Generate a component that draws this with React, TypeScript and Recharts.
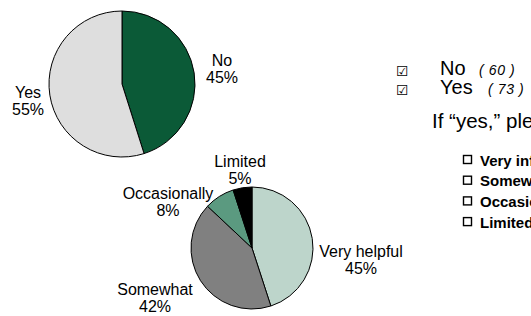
import React from "react";
import { PieChart, Pie, Cell } from "recharts";

const useCategories = ["No", "Yes"];
const useCounts = [60, 73];
const useColors = ["#0B5A37", "#DEDEDE"];

const helpCategories = ["Very helpful", "Somewhat", "Occasionally", "Limited"];
const helpPercents = [45, 42, 8, 5];
const helpColors = ["#BDD5CB", "#808080", "#5B9A80", "#000000"];

const listItems = ["Very informative", "Somewhat", "Occasionally", "Limited"];

const useData = useCategories.map((name, i) => ({ name, value: useCounts[i] }));
const helpData = helpCategories.map((name, i) => ({ name, value: helpPercents[i] }));

const FONT = "'Liberation Sans', Arial, Helvetica, sans-serif";

// label block offsets relative to pie centre (layout only)
const labelOffsets: Record<string, [number, number]> = {
  No: [100, -16],
  Yes: [-94, 16],
  "Very helpful": [109, 11],
  Somewhat: [-97, 49],
  Occasionally: [-84, -47],
  Limited: [-12, -79],
};

// x of the italic count after each answer (layout only)
const countX = [479, 488];

const renderLabel = (props: any) => {
  const { cx, cy, name, percent } = props;
  const off = labelOffsets[name] || [0, 0];
  const x = cx + off[0];
  const y = cy + off[1];
  return (
    <text
      x={x}
      y={y}
      textAnchor="middle"
      fontFamily={FONT}
      fontSize={16}
      fill="#000"
    >
      <tspan x={x} y={y - 2}>{name}</tspan>
      <tspan x={x} y={y + 15}>{Math.round(percent * 100)}%</tspan>
    </text>
  );
};

export default function App() {
  return (
    <div style={{ position: "absolute", left: 0, top: 0, width: 531, height: 316, background: "#fff", overflow: "hidden" }}>
      <PieChart
        width={531}
        height={316}
        margin={{ top: 0, right: 0, bottom: 0, left: 0 }}
        style={{ position: "absolute", left: 0, top: 0 }}
      >
        <Pie
          data={useData}
          dataKey="value"
          nameKey="name"
          cx={122}
          cy={84}
          outerRadius={73}
          startAngle={90}
          endAngle={-270}
          stroke="#000"
          strokeWidth={1}
          label={renderLabel}
          labelLine={false}
          isAnimationActive={false}
        >
          {useData.map((d, i) => (
            <Cell key={d.name} fill={useColors[i]} />
          ))}
        </Pie>
        <Pie
          data={helpData}
          dataKey="value"
          nameKey="name"
          cx={252}
          cy={248}
          outerRadius={61}
          startAngle={90}
          endAngle={-270}
          stroke="#000"
          strokeWidth={1}
          label={renderLabel}
          labelLine={false}
          isAnimationActive={false}
        >
          {helpData.map((d, i) => (
            <Cell key={d.name} fill={helpColors[i]} />
          ))}
        </Pie>
      </PieChart>
      <svg width={531} height={316} style={{ position: "absolute", left: 0, top: 0, pointerEvents: "none" }}>
        <defs>
          <clipPath id="pageClip">
            <rect x={0} y={0} width={531} height={316} />
          </clipPath>
        </defs>
        <g clipPath="url(#pageClip)">
          {useCategories.map((c, i) => (
            <g key={c}>
              <text x={396} y={76 + i * 19} fontFamily="'DejaVu Sans', sans-serif" fontSize={14} fill="#000">☑</text>
              <text x={440} y={75 + i * 19} fontFamily={FONT} fontSize={20} fill="#000">{c}</text>
              <text x={countX[i]} y={75 + i * 19} fontFamily={FONT} fontSize={14} fontStyle="italic" letterSpacing={0.6} fill="#000">
                ( {useCounts[i]} )
              </text>
            </g>
          ))}
          <text x={432} y={128} fontFamily={FONT} fontSize={20.5} fill="#000">If “yes,” please</text>
          {listItems.map((t, i) => (
            <g key={t}>
              <rect x={463.5} y={155.5 + i * 20.7} width={8} height={8} fill="none" stroke="#000" strokeWidth={1.4} />
              <text x={480} y={165.5 + i * 20.7} fontFamily={FONT} fontSize={15} fontWeight="bold" fill="#000">{t}</text>
            </g>
          ))}
        </g>
      </svg>
    </div>
  );
}
